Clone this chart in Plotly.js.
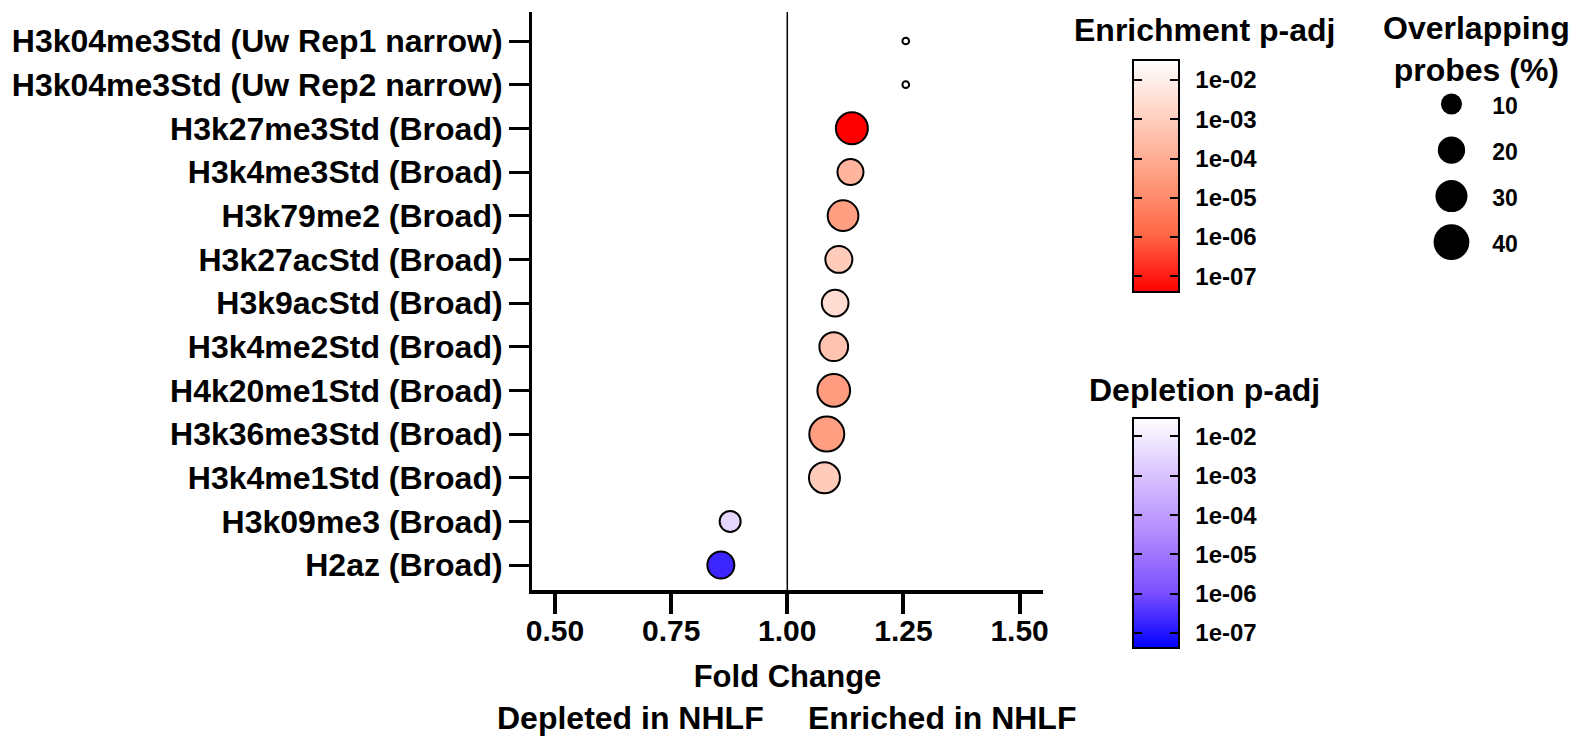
<!DOCTYPE html>
<html>
<head>
<meta charset="utf-8">
<script src="https://cdn.plot.ly/plotly-3.0.1.min.js"></script>
<style>html,body{margin:0;padding:0;background:#fff;}#chart{width:1571px;height:738px;}</style>
</head>
<body>
<div id="chart"></div>
<script>
// ---------------- data ----------------
const categories = [
  "H3k04me3Std (Uw Rep1 narrow)",
  "H3k04me3Std (Uw Rep2 narrow)",
  "H3k27me3Std (Broad)",
  "H3k4me3Std (Broad)",
  "H3k79me2 (Broad)",
  "H3k27acStd (Broad)",
  "H3k9acStd (Broad)",
  "H3k4me2Std (Broad)",
  "H4k20me1Std (Broad)",
  "H3k36me3Std (Broad)",
  "H3k4me1Std (Broad)",
  "H3k09me3 (Broad)",
  "H2az (Broad)"
];
const foldChange = [1.255, 1.255, 1.139, 1.136, 1.120, 1.111, 1.103, 1.100, 1.100, 1.085, 1.080, 0.877, 0.857];
const pAdj = [0.05, 0.05, 3e-8, 1.7e-4, 3.5e-5, 9e-4, 2.9e-3, 4.7e-4, 3e-5, 3.5e-5, 8e-4, 3e-3, 2e-7];
const overlapPct = [0.5, 0.5, 30, 17.4, 26.9, 19.2, 18.7, 22.6, 31.7, 37.9, 27.6, 10, 19.2];
const sizeLegendValues = [10, 20, 30, 40];
const colorTickValues = [1e-2, 1e-3, 1e-4, 1e-5, 1e-6, 1e-7];
const colorTickLabels = ["1e-02", "1e-03", "1e-04", "1e-05", "1e-06", "1e-07"];

// ---------------- styling helpers ----------------
const FONT = "Liberation Sans, Arial, Helvetica, sans-serif";
const f = (size) => ({family: FONT, size: size, color: "#000", weight: 700});
const sizeOf = (v) => 8.7 * Math.pow(v, 0.383);   // marker diameter scale
const log10 = (v) => Math.log10(v);

// Lab-interpolated white->red and white->blue gradients (low p = saturated)
const redScale = [[0, "rgb(255,0,0)"], [0.25, "rgb(255,104,70)"], [0.5, "rgb(255,158,129)"], [0.75, "rgb(255,207,191)"], [1, "rgb(255,255,255)"]];
const blueScale = [[0, "rgb(0,0,255)"], [0.25, "rgb(126,82,255)"], [0.5, "rgb(179,139,255)"], [0.75, "rgb(217,194,255)"], [1, "rgb(255,255,255)"]];
const clearScale = [[0, "rgba(0,0,0,0)"], [1, "rgba(0,0,0,0)"]];

const enr = [], dep = [];
foldChange.forEach((fc, i) => (fc >= 1 ? enr : dep).push(i));
const pick = (arr, idx) => idx.map(i => arr[i]);

const PX = (px) => (px - 532) / 1039;
const PY = (py) => (590 - py) / 578;
const BAR_L = 1133, BAR_W = 46;

function cbarBase(yTop, len) {
  return {
    xanchor: "left", xpad: 0,
    y: PY(yTop), yanchor: "top", ypad: 0,
    len: len, lenmode: "pixels", thicknessmode: "pixels",
    tickvals: colorTickValues.map(log10), ticktext: colorTickLabels,
    tickfont: f(24)
  };
}
function realBar(yTop, len) {
  return Object.assign(cbarBase(yTop, len), {
    x: PX(BAR_L), thickness: BAR_W,
    outlinecolor: "#000", outlinewidth: 2,
    ticks: "outside", ticklen: 11, tickwidth: 2, tickcolor: "rgba(0,0,0,0)",
    ticklabelposition: "outside"
  });
}
function rightTicks(yTop, len) {
  return Object.assign(cbarBase(yTop, len), {
    x: PX(BAR_L), thickness: BAR_W, outlinewidth: 0,
    ticks: "inside", ticklen: 9, tickwidth: 2, tickcolor: "#000",
    showticklabels: false
  });
}
function leftTicks(yTop, len) {
  return Object.assign(cbarBase(yTop, len), {
    x: PX(BAR_L - 1), thickness: 1, outlinewidth: 0,
    ticks: "outside", ticklen: 9, tickwidth: 2, tickcolor: "#000",
    showticklabels: false
  });
}

function dotTrace(idx, scale, cmin, cmax, bar) {
  return {
    type: "scatter", mode: "markers",
    x: pick(foldChange, idx), y: pick(categories, idx),
    marker: {
      size: pick(overlapPct, idx).map(sizeOf), opacity: 1,
      color: pick(pAdj, idx).map(log10),
      colorscale: scale, cmin: cmin, cmax: cmax,
      line: {color: "#000", width: 2},
      showscale: true, colorbar: bar
    },
    showlegend: false, hoverinfo: "x+y"
  };
}
function tickTrace(idx, cmin, cmax, bar) {
  return {
    type: "scatter", mode: "markers",
    x: pick(foldChange, idx), y: pick(categories, idx),
    marker: {
      size: 1, opacity: 0,
      color: pick(pAdj, idx).map(log10),
      colorscale: clearScale, cmin: cmin, cmax: cmax,
      showscale: true, colorbar: bar
    },
    showlegend: false, hoverinfo: "skip"
  };
}

const E_MIN = -7.4, E_MAX = -1.49, D_MIN = -7.38, D_MAX = -1.53;
const traces = [
  dotTrace(enr, redScale, E_MIN, E_MAX, realBar(60, 232)),
  dotTrace(dep, blueScale, D_MIN, D_MAX, realBar(418, 230)),
  tickTrace(enr, E_MIN, E_MAX, rightTicks(60, 232)),
  tickTrace(enr, E_MIN, E_MAX, leftTicks(60, 232)),
  tickTrace(dep, D_MIN, D_MAX, rightTicks(418, 230)),
  tickTrace(dep, D_MIN, D_MAX, leftTicks(418, 230)),
  {
    type: "scatter", mode: "markers", xaxis: "x2", yaxis: "y2",
    x: sizeLegendValues.map(() => 0), y: sizeLegendValues,
    marker: {size: sizeLegendValues.map(sizeOf), color: "#000", opacity: 1, line: {width: 0}},
    showlegend: false, hoverinfo: "skip"
  },
  {
    type: "scatter", mode: "text", xaxis: "x2", yaxis: "y3",
    x: sizeLegendValues.map(() => 1), y: sizeLegendValues,
    text: sizeLegendValues.map(String), textfont: f(23), textposition: "middle center",
    showlegend: false, hoverinfo: "skip"
  }
];

const layout = {
  width: 1571, height: 738,
  margin: {l: 532, r: 0, t: 12, b: 148, pad: 0},
  paper_bgcolor: "#fff", plot_bgcolor: "#fff",
  font: f(24),
  xaxis: {
    domain: [0, 511 / 1039],
    range: [0.4505, 1.5504],
    tickvals: [0.5, 0.75, 1.0, 1.25, 1.5], tickformat: ".2f",
    ticks: "outside", ticklen: 20, tickwidth: 4, tickcolor: "#000",
    showline: true, linewidth: 4, linecolor: "#000",
    showgrid: false, zeroline: false,
    tickfont: f(30), ticklabelstandoff: -9,
    title: {text: "Fold Change", font: f(31), standoff: 20}
  },
  yaxis: {
    type: "category",
    categoryorder: "array", categoryarray: categories,
    range: [12.57, -0.664],
    ticks: "outside", ticklen: 20, tickwidth: 3, tickcolor: "#000",
    showline: true, linewidth: 3, linecolor: "#000",
    showgrid: false, zeroline: false,
    tickfont: f(32), ticklabelstandoff: 0
  },
  xaxis2: {domain: [PX(1400), 1], range: [-0.96, 2.23], visible: false, fixedrange: true},
  yaxis2: {domain: [PY(290), PY(60)], range: [50.4, 0.43], visible: false, fixedrange: true},
  yaxis3: {overlaying: "y2", anchor: "x2", range: [49.53, -0.44], visible: false, fixedrange: true},
  shapes: [
    {type: "line", xref: "x", yref: "paper", x0: 1, x1: 1, y0: 0, y1: 1, line: {color: "#000", width: 1.5}, layer: "below"}
  ],
  annotations: [
    {text: "Depleted in NHLF", xref: "x", yref: "paper", x: 1.0, y: PY(718), xanchor: "right", yanchor: "middle", xshift: -21, showarrow: false, font: f(32)},
    {text: "Enriched in NHLF", xref: "x", yref: "paper", x: 1.0, y: PY(718), xanchor: "left", yanchor: "middle", xshift: 19, showarrow: false, font: f(32)},
    {text: "Enrichment p-adj", xref: "paper", yref: "paper", x: PX(1204), y: PY(30), xanchor: "center", yanchor: "middle", showarrow: false, font: f(32)},
    {text: "Depletion p-adj", xref: "paper", yref: "paper", x: PX(1204), y: PY(390), xanchor: "center", yanchor: "middle", showarrow: false, font: f(32)},
    {text: "Overlapping<br>probes (%)", xref: "paper", yref: "paper", x: PX(1476), y: PY(49), xanchor: "center", yanchor: "middle", showarrow: false, font: f(32)}
  ]
};

Plotly.newPlot("chart", traces, layout, {displayModeBar: false, responsive: false});
</script>
</body>
</html>
